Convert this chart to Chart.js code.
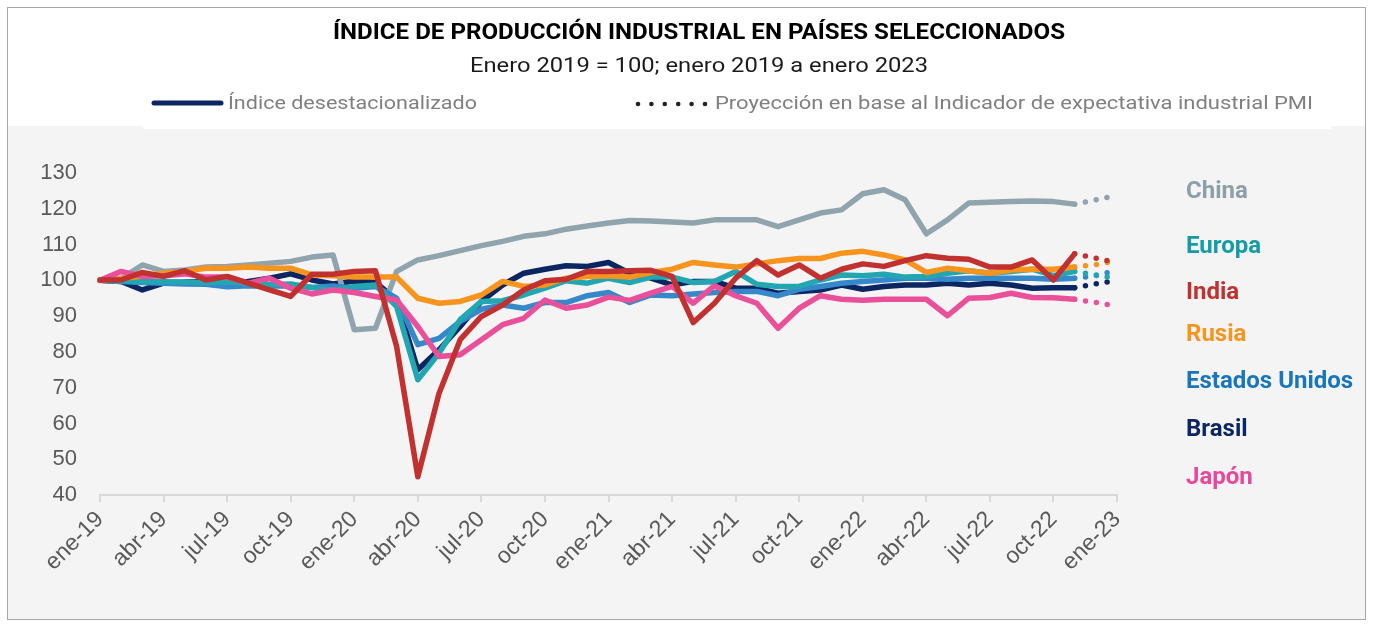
<!DOCTYPE html>
<html><head><meta charset="utf-8">
<script src="https://cdn.jsdelivr.net/npm/chart.js@4/dist/chart.umd.min.js"></script>
<style>html,body{margin:0;padding:0;background:#fff;}canvas{display:block}</style>
</head><body>
<canvas id="c" width="1373" height="626"></canvas>
<script>
const categories = ['ene-19','feb-19','mar-19','abr-19','may-19','jun-19','jul-19','ago-19','sep-19','oct-19','nov-19','dic-19',
 'ene-20','feb-20','mar-20','abr-20','may-20','jun-20','jul-20','ago-20','sep-20','oct-20','nov-20','dic-20',
 'ene-21','feb-21','mar-21','abr-21','may-21','jun-21','jul-21','ago-21','sep-21','oct-21','nov-21','dic-21',
 'ene-22','feb-22','mar-22','abr-22','may-22','jun-22','jul-22','ago-22','sep-22','oct-22','nov-22','dic-22','ene-23'];

const china = [100,100.5,104.3,102.5,102.9,103.7,103.9,104.3,104.8,105.3,106.5,107.1,
 86.2,86.6,102.5,105.7,106.9,108.3,109.7,110.9,112.3,113.0,114.3,115.2,
 116.0,116.7,116.6,116.3,116.0,116.9,116.9,116.9,115.0,116.9,118.8,119.7,
 124.2,125.3,122.5,113.0,116.9,121.6,121.8,122.0,122.2,122.0,121.3];
const europa = [100,99.8,99.6,99.6,99.5,99.3,99.5,99.2,98.8,99.0,98.0,97.2,
 98.3,98.7,92.7,72.2,79.6,89.0,94.1,94.3,95.9,97.8,99.9,99.2,
 100.6,99.4,100.9,100.9,99.4,99.7,102.5,98.9,98.3,98.3,100.1,101.5,
 101.3,101.7,100.9,101.1,102.0,102.7,102.0,102.5,103.1,101.3,102.5];
const india = [100.1,100.1,102.2,101.1,102.7,100.1,101.1,99.2,97.3,95.5,101.7,101.7,
 102.5,102.7,81.5,45.1,68.4,83.4,89.9,93.1,97.3,99.9,100.3,102.5,
 102.5,102.7,102.8,101.1,88.2,93.6,100.6,105.5,101.5,104.3,100.6,103.1,
 104.6,103.9,105.5,106.9,106.2,105.9,103.7,103.7,105.7,100.1,107.4];
const rusia = [100,100.5,101.2,102.0,102.5,103.4,103.4,103.7,103.4,103.4,101.5,101.3,
 100.9,100.9,100.9,95.0,93.6,94.1,95.9,99.7,98.3,98.7,100.6,101.1,
 101.3,100.9,102.2,103.1,105.0,104.3,103.7,104.6,105.5,106.1,106.1,107.6,
 108.1,107.1,105.7,102.2,103.4,102.7,102.0,102.9,103.1,103.1,103.7];
const eeuu = [100,99.7,99.4,99.2,99.0,98.9,98.2,98.5,98.4,98.5,98.0,98.4,
 97.8,98.3,95.0,82.0,83.8,88.5,91.9,93.1,92.2,93.8,93.8,95.7,
 96.6,93.8,95.9,95.7,96.2,96.6,96.9,96.9,95.7,97.5,98.3,99.2,
 99.7,100.1,100.6,100.6,100.3,100.6,100.6,100.6,100.6,100.3,100.6];
const brasil = [100,99.7,97.3,99.2,99.5,99.6,98.8,99.7,100.6,101.8,100.1,99.0,
 99.8,99.5,94.5,75.0,80.6,87.1,94.1,98.7,102.0,103.1,104.1,103.9,
 105.0,102.0,100.6,98.7,99.7,99.7,97.8,97.8,96.4,96.9,97.3,98.7,
 97.5,98.3,98.7,98.7,99.2,98.7,99.2,98.7,97.8,97.9,97.9];
const japon = [100,102.5,101.1,101.3,101.8,100.9,100.9,99.2,100.6,97.8,96.2,97.3,
 96.6,95.5,94.5,87.1,78.7,79.2,83.4,87.6,89.4,94.5,92.2,93.1,
 95.3,94.4,96.4,98.3,93.6,98.5,95.7,93.6,86.6,92.2,95.7,94.7,
 94.4,94.7,94.7,94.7,90.1,95.0,95.2,96.4,95.2,95.1,94.7];

// PMI-based projection: [dic-22, ene-23]
const projChina = [122.5, 123.8];
const projEuropa = [101.5, 100.5];
const projIndia = [106.2, 104.9];
const projRusia = [104.4, 105.5];
const projEeuu = [101.3, 102.8];
const projBrasil = [99.0, 100.0];
const projJapon = [93.8, 92.8];

const yTicks = [40,50,60,70,80,90,100,110,120,130];

const series = [
  {name:'India', data:india, proj:projIndia, color:'#c1312f', label:'#c1312f'},
  {name:'Japón', data:japon, proj:projJapon, color:'#ea4f99', label:'#e8489a'},
  {name:'Rusia', data:rusia, proj:projRusia, color:'#f7941e', label:'#f7941e'},
  {name:'Europa', data:europa, proj:projEuropa, color:'#22a6b1', label:'#149ca6'},
  {name:'Estados Unidos', data:eeuu, proj:projEeuu, color:'#3589cb', label:'#1976bd'},
  {name:'China', data:china, proj:projChina, color:'#90a4ae', label:'#8d9fa8'},
  {name:'Brasil', data:brasil, proj:projBrasil, color:'#0b2660', label:'#0b2660'}
];
const sideLabels = [
  {name:'China', y:192}, {name:'Europa', y:247}, {name:'India', y:293}, {name:'Rusia', y:335},
  {name:'Estados Unidos', y:382}, {name:'Brasil', y:430}, {name:'Japón', y:478}
];

const datasets = [];
series.forEach(s => {
  datasets.push({label:s.name, data:s.data, borderColor:s.color, backgroundColor:s.color,
    borderWidth:5.5, pointRadius:0, tension:0, borderCapStyle:'round', borderJoinStyle:'round', fill:false});
});
series.forEach(s => {
  const last = s.data[s.data.length-1];
  const pd = new Array(s.data.length-1).fill(null).concat([last]).concat(s.proj);
  datasets.push({label:s.name+' proy', data:pd, borderColor:s.color, backgroundColor:s.color,
    borderWidth:5.5, pointRadius:0, tension:0, borderDash:[0,11], borderCapStyle:'round', fill:false, clip:false});
});

function fitText(ctx, text, x, y, w, align){
  const m = ctx.measureText(text).width;
  const s = w / m;
  ctx.save(); ctx.translate(x, y); ctx.scale(s, 1); ctx.textAlign = align; ctx.fillText(text, 0, 0); ctx.restore();
}

const framePlugin = {
  id:'frame',
  beforeDraw(chart){
    const ctx = chart.ctx;
    ctx.save();
    ctx.fillStyle = '#ffffff'; ctx.fillRect(0,0,chart.width,chart.height);
    ctx.fillStyle = '#f4f4f4'; ctx.fillRect(8,126,1357,493);
    ctx.fillStyle = '#ffffff'; ctx.fillRect(143,84,1188,45);
    ctx.strokeStyle = '#a6a6a6'; ctx.lineWidth = 1; ctx.strokeRect(7.5,7.5,1358,612);
    ctx.restore();
  },
  afterDraw(chart){
    const ctx = chart.ctx;
    ctx.save();
    ctx.textBaseline = 'middle';
    ctx.fillStyle = '#000000';
    ctx.font = 'bold 22px Roboto';
    fitText(ctx, 'ÍNDICE DE PRODUCCIÓN INDUSTRIAL EN PAÍSES SELECCIONADOS', 699, 33, 732, 'center');
    ctx.fillStyle = '#1a1a1a';
    ctx.font = '20px Roboto';
    fitText(ctx, 'Enero 2019 = 100; enero 2019 a enero 2023', 699, 67, 458, 'center');
    // legend
    ctx.strokeStyle = '#0b2660'; ctx.lineWidth = 5; ctx.lineCap = 'round';
    ctx.beginPath(); ctx.moveTo(154,103); ctx.lineTo(221,103); ctx.stroke();
    ctx.fillStyle = '#222222';
    for (let k=0;k<6;k++){ ctx.beginPath(); ctx.arc(638+k*13.4,104,2.3,0,Math.PI*2); ctx.fill(); }
    ctx.fillStyle = '#7f7f7f';
    ctx.font = '19px Roboto';
    fitText(ctx, 'Índice desestacionalizado', 228, 104, 249, 'left');
    fitText(ctx, 'Proyección en base al Indicador de expectativa industrial PMI', 715, 104, 598, 'left');
    // side labels
    ctx.font = 'bold 24px Roboto';
    sideLabels.forEach(l => {
      const s = series.find(x => x.name === l.name);
      ctx.fillStyle = s.label; ctx.textAlign = 'left';
      ctx.fillText(l.name, 1186, l.y);
    });
    ctx.restore();
  }
};

new Chart(document.getElementById('c'), {
  type:'line',
  data:{labels:categories, datasets:datasets},
  options:{
    responsive:false, animation:false, devicePixelRatio:1,
    layout:{padding:{left:0, right:256, top:173, bottom:10}},
    plugins:{legend:{display:false}, title:{display:false}, tooltip:{enabled:false}},
    scales:{
      x:{type:'category', offset:false,
        grid:{display:true, drawOnChartArea:false, drawTicks:true, tickLength:7, color:'#d9d9d9', lineWidth:2},
        border:{display:true, color:'#d9d9d9', width:2},
        ticks:{autoSkip:false, minRotation:45, maxRotation:45, color:'#595959', padding:4,
          font:{family:'Liberation Sans', size:23},
          callback:(v,i)=> (i%3===0 ? categories[i] : null)},
        afterFit(s){ s.height = 626-10-495; }
      },
      y:{min:yTicks[0], max:yTicks[yTicks.length-1],
        afterBuildTicks(s){ s.ticks = yTicks.map(v=>({value:v})); },
        ticks:{color:'#595959', padding:23, font:{family:'Liberation Sans', size:22}},
        grid:{display:false, drawTicks:false}, border:{display:false},
        afterFit(s){ s.width = 100; }
      }
    }
  },
  plugins:[framePlugin]
});
</script>
</body></html>
